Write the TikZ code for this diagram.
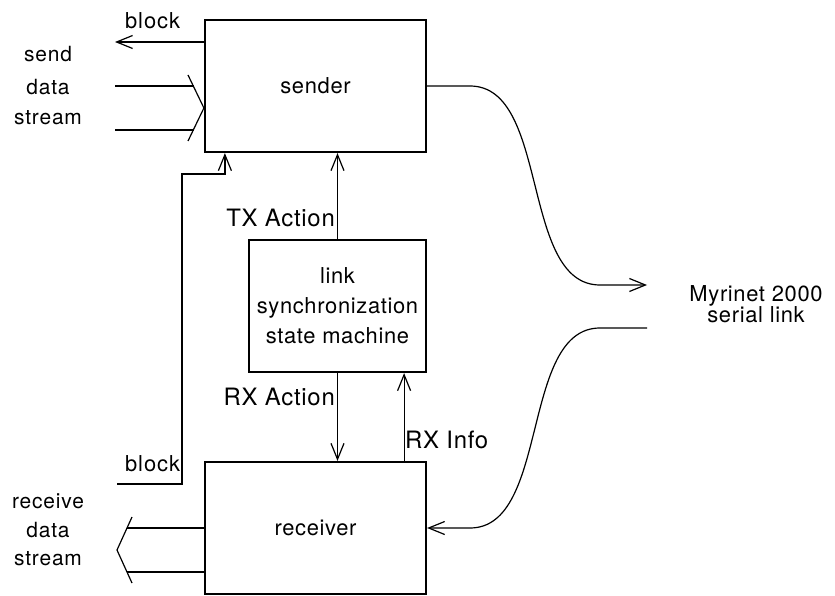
\documentclass[tikz,border=0pt]{standalone}
\usepackage{fontspec}
\usetikzlibrary{arrows.meta,calc}
\newfontfamily\boxfnt{TeX Gyre Heros}[LetterSpace=3]
\newfontfamily\lblfnt{TeX Gyre Heros}[LetterSpace=3]
\newfontfamily\sidefnt{TeX Gyre Heros}[LetterSpace=4]
\newfontfamily\myrfnt{TeX Gyre Heros}[LetterSpace=3]
\begin{document}
\begin{tikzpicture}[x=1bp,y=-1bp,
  box/.style={draw, line width=2.2bp, minimum width=221bp, minimum height=132bp,
    inner sep=0pt, align=center, font=\boxfnt\fontsize{22}{30}\selectfont},
  conn/.style={line width=1.2bp},
  arr/.style={conn, -{Straight Barb[length=16bp,width=13bp,line width=1.2bp]}},
  act/.style={inner sep=0pt, font=\lblfnt\fontsize{24}{30}\selectfont},
  side/.style={inner sep=0pt, anchor=base, font=\sidefnt\fontsize{21}{26}\selectfont},
  blk/.style={inner sep=0pt, anchor=base west, font=\sidefnt\fontsize{22}{26}\selectfont},
  myr/.style={inner sep=0pt, align=center, font=\myrfnt\fontsize{22}{19}\selectfont}]
\useasboundingbox (0,0) rectangle (835,596);

% boxes
\node[box] (sender) at (315.5,86) {sender};
\node[box, minimum width=177bp] (sm) at (337.5,306) {link\\synchronization\\state machine};
\node[box] (receiver) at (315.5,528) {receiver};

% side labels
\node[side] (send) at (48,62) {send};
\node[side] (sdata) at (48,95) {data};
\node[side] (sstream) at (48,125) {stream};
\node[side] (receive) at (48,508) {receive};
\node[side] (rdata) at (48,537) {data};
\node[side] (rstream) at (48,565) {stream};
\node[blk] (blk1) at (125,29) {block};
\node[blk] (blk2) at (125,471) {block};
\node[myr, anchor=north] (myrinet) at (756,285) {Myrinet 2000\\serial link};

% block out of sender
\coordinate (blkout) at (115,42);
\draw[arr] (sender.west |- blkout) -- (blkout);

% send data stream inputs
\coordinate (in1) at (115,86);
\coordinate (in2) at (115,130);
\coordinate (chA) at (188,75);
\coordinate (chB) at (188,141);
\draw[conn] (in1) -- (194,86);
\draw[conn] (in2) -- (194,130);
\draw[conn] (chA) -- (sender.west |- 0,108) -- (chB);

% block from receiver into sender
\coordinate (blkin) at (117,484);
\draw[arr] (blkin) -- (182,484) -- (182,174) -| ($(sender.south west)+(21,0)$);

% receive data stream outputs
\draw[conn] (receiver.west |- 0,528) -- (127,528);
\draw[conn] (receiver.west |- 0,572) -- (127,572);
\coordinate (cA) at (132,517);
\coordinate (cB) at (132,583);
\draw[conn] (cA) -- (117,550) -- (cB);

% state machine connections
\draw[arr] (sm.north) -- (sm.north |- sender.south);
\node[act, anchor=base east] (tx) at (335,227) {TX Action};
\draw[arr] (sm.south) -- (sm.south |- receiver.north);
\node[act, anchor=base east] (rxa) at (335,405) {RX Action};
\coordinate (rxi) at ($(sm.south east)+(-23,0)$);
\draw[arr] (receiver.north -| rxi) -- (rxi);
\node[act, anchor=base west] (rxinfo) at (405,448) {RX Info};

% serial link
\coordinate (txout) at (647,285);
\coordinate (rxin) at (647,328);
\draw[arr] (sender.east) -- (470,86) .. controls (550,86) and (520,285) .. (600,285) -- (txout);
\draw[arr] (rxin) -- (600,328) .. controls (520,328) and (550,528) .. (470,528) -- (receiver.east);
\end{tikzpicture}
\end{document}
